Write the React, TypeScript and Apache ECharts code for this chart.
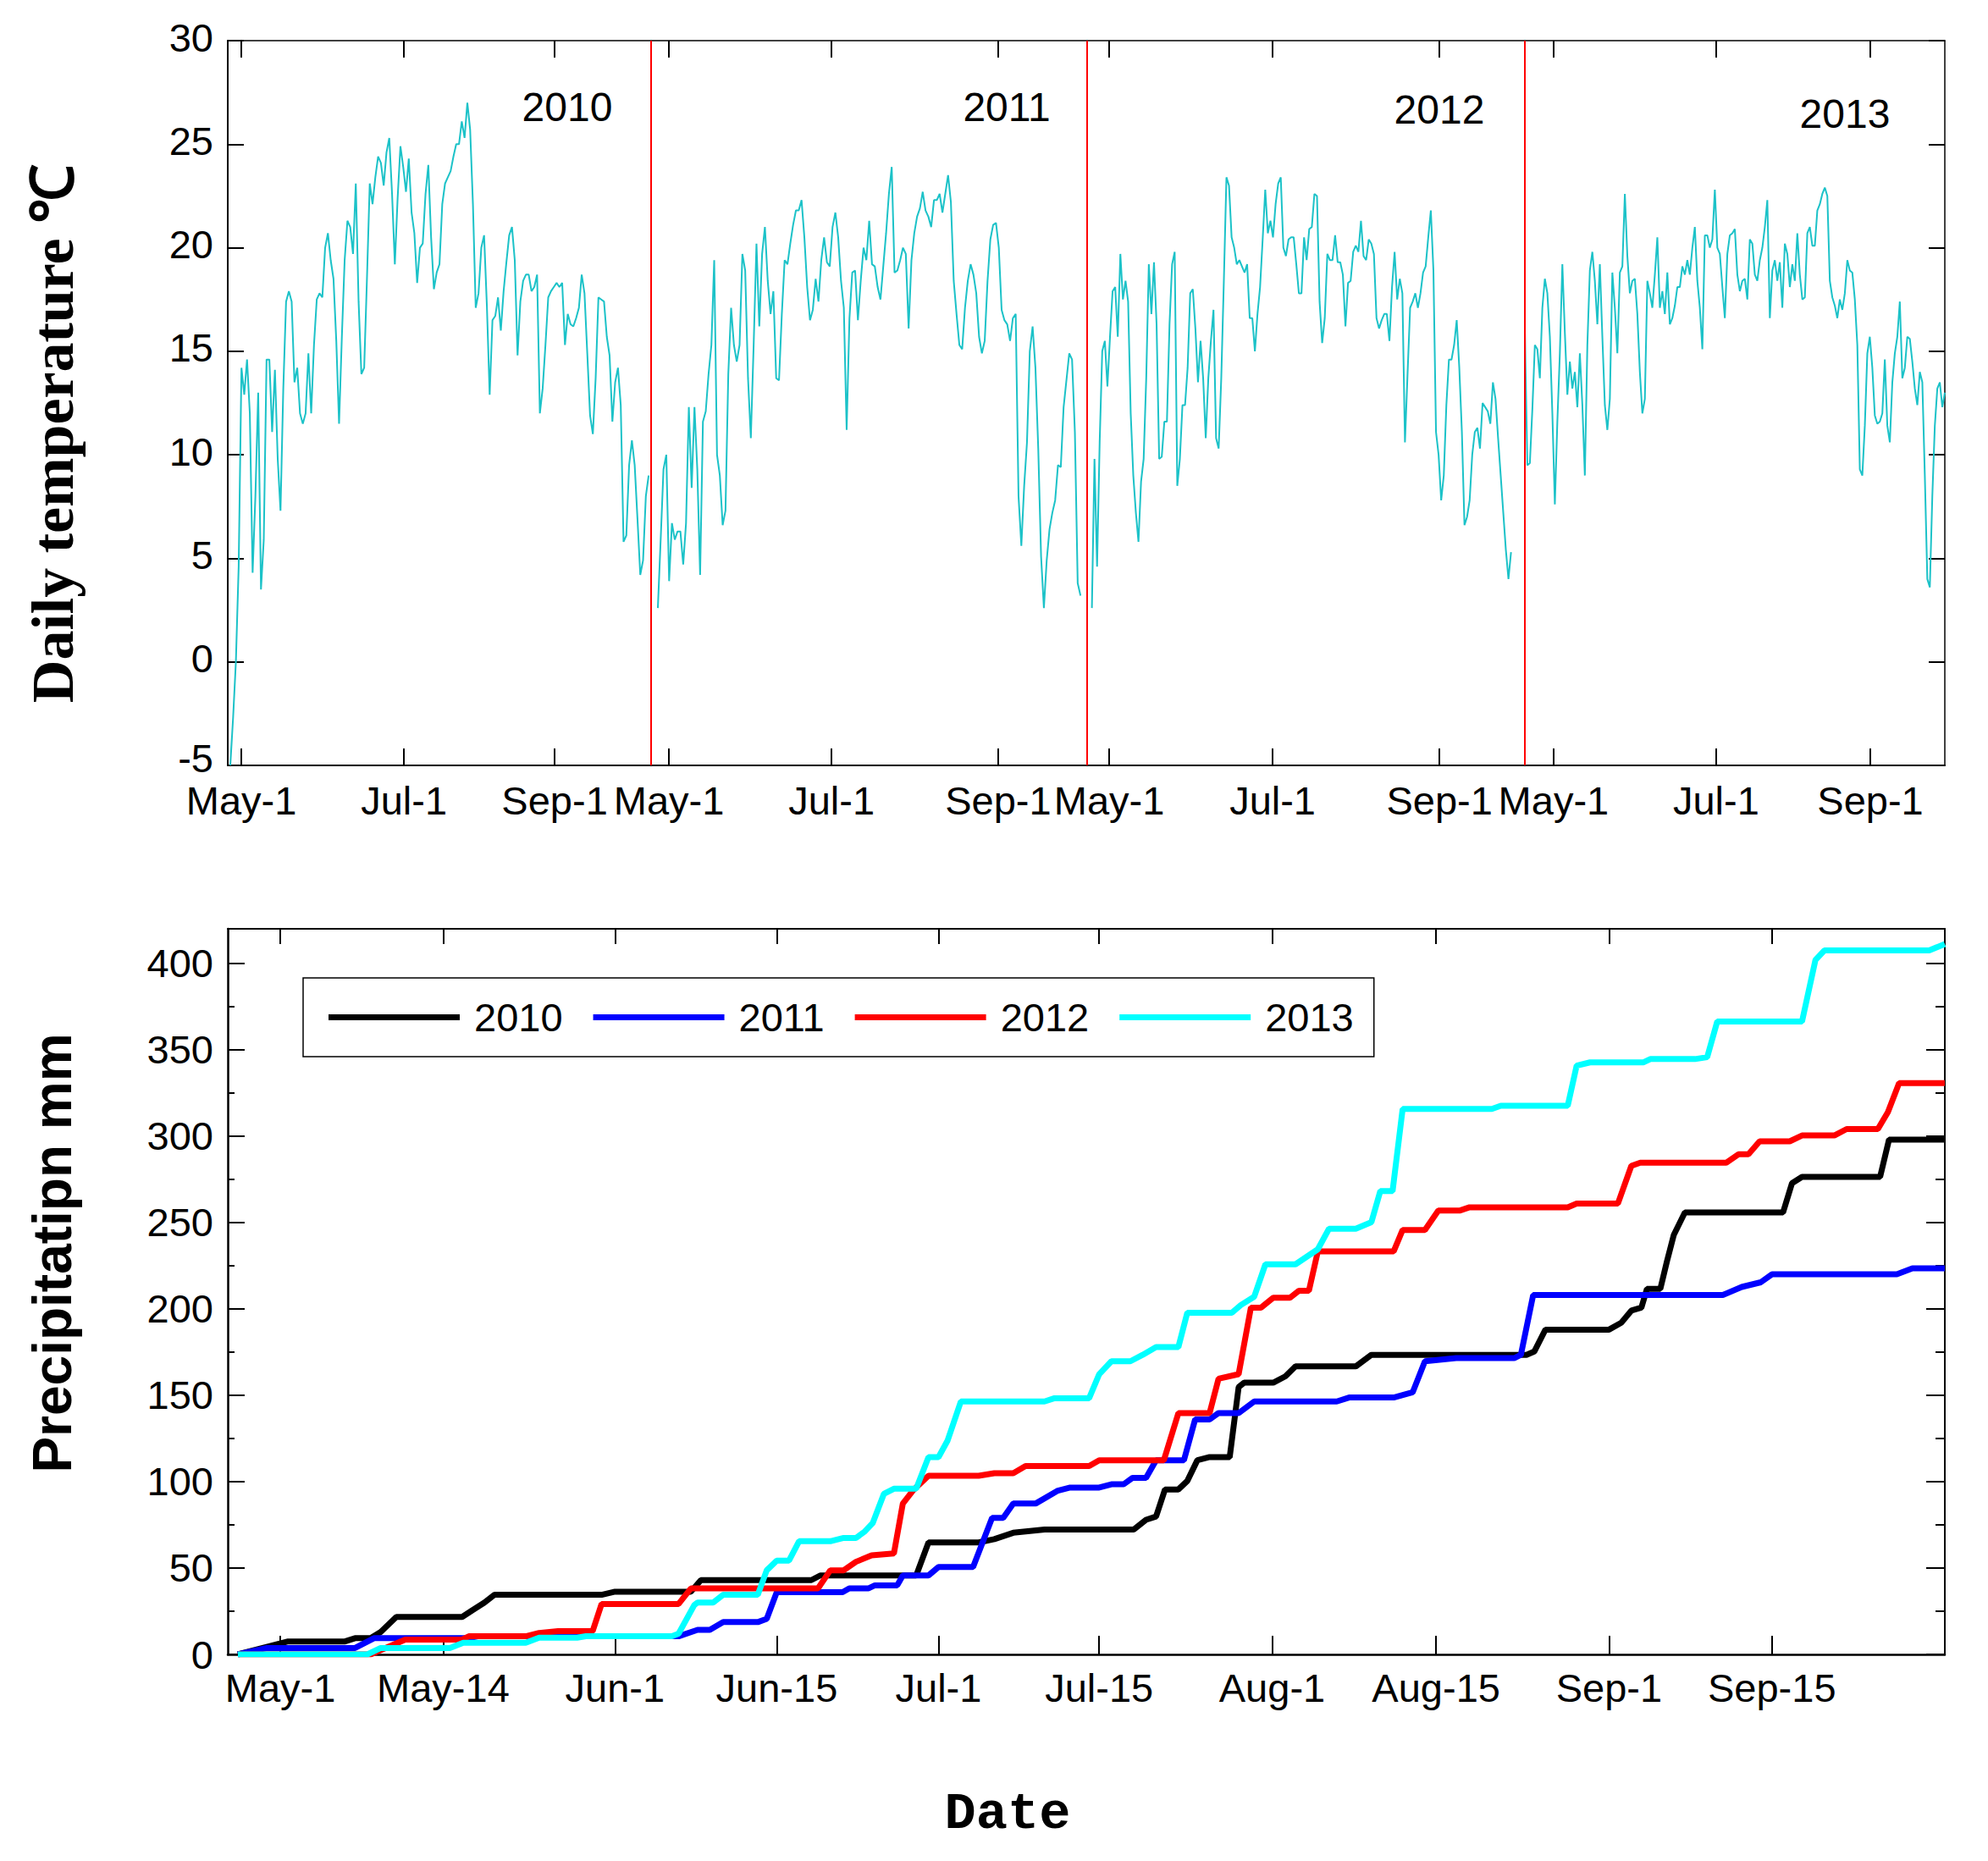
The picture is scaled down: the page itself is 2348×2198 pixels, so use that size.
import React, { useEffect, useRef } from "react";
import * as echarts from "echarts";

// ---------- Daily temperature (°C), one value per day, per season ----------
const temp2010 = [
  -5, -2.7, 0, 4.6, 14.2, 12.9, 14.6, 12, 4.3, 8,
  13, 3.5, 5.9, 14.6, 14.6, 11.1, 14.1, 9.8, 7.3, 13.2,
  17.4, 17.9, 17.4, 13.5, 14.2, 12, 11.5, 12, 14.9, 12,
  15.3, 17.5, 17.8, 17.6, 20, 20.7, 19.4, 18.5, 15.5, 11.5,
  15.7, 19.4, 21.3, 21, 19.7, 23.1, 17.4, 13.9, 14.2, 18.5,
  23.1, 22.1, 23.4, 24.4, 24.1, 23, 24.6, 25.3, 22.6, 19.2,
  22.4, 24.9, 23.9, 22.7, 24.3, 21.7, 20.7, 18.3, 20, 20.2,
  22.6, 24, 20.5, 18, 18.8, 19.2, 22.1, 23.1, 23.4, 23.7,
  24.4, 25, 25, 26.1, 25.3, 27, 25.7, 22.1, 17.1, 17.8,
  20, 20.6, 17.2, 12.9, 16.5, 16.7, 17.6, 16, 17.9, 19.3,
  20.6, 21, 19.4, 14.8, 17.4, 18.4, 18.7, 18.7, 17.9, 18.1,
  18.7, 12, 13.2, 15.3, 17.6, 17.9, 18.1, 18.3, 18.1, 18.3,
  15.3, 16.8, 16.3, 16.2, 16.6, 17.1, 18.7, 17.8, 14.9, 11.9,
  11, 13.7, 17.6, 17.5, 17.4, 15.7, 14.8, 11.6, 13.5, 14.2,
  12.4, 5.8, 6.1, 9.5, 10.7, 9.5, 6.9, 4.2, 4.9, 8, 9,
];
const temp2011 = [
  2.6, 5.9, 9.3, 10, 3.9, 6.7, 5.9, 6.3, 6.3, 4.7,
  6.7, 12.3, 8.4, 12.3, 9.3, 4.2, 11.6, 12.1, 13.9, 15.3,
  19.4, 10, 9, 6.6, 7.3, 13.9, 17.1, 15.3, 14.5, 15.3,
  19.7, 18.9, 13.7, 10.8, 15.3, 20.2, 16.2, 19.7, 21, 18.4,
  16.8, 17.9, 13.7, 13.6, 16.8, 19.4, 19.2, 20.2, 21.1, 21.8,
  21.8, 22.3, 20.5, 18.1, 16.5, 17, 18.5, 17.4, 19.4, 20.5,
  19.3, 19.1, 21, 21.7, 20.5, 18.4, 17.1, 11.2, 16.6, 18.8,
  18.9, 16.5, 18.4, 20, 19.4, 21.3, 19.2, 19.1, 18.1, 17.5,
  19.1, 20.7, 22.6, 23.9, 18.8, 18.9, 19.4, 20, 19.7, 16.1,
  19.4, 20.7, 21.5, 21.9, 22.7, 21.8, 21.5, 21, 22.3, 22.3,
  22.6, 21.7, 22.6, 23.5, 22.2, 18.4, 16.8, 15.3, 15.1, 17.1,
  18.4, 19.2, 18.7, 17.8, 15.7, 14.9, 15.5, 18.4, 20.4, 21.1,
  21.2, 20, 17, 16.5, 16.3, 15.5, 16.6, 16.8, 8, 5.6,
  8.5, 10.6, 15, 16.2, 14.2, 10.3, 5.1, 2.6, 4.9, 6.4,
  7.2, 7.8, 9.5, 9.4, 12.3, 13.6, 14.9, 14.6, 11.1, 3.8, 3.2,
];
const temp2012 = [
  2.6, 9.8, 4.6, 10.6, 15, 15.5, 13.3, 15.7, 17.9, 18.1,
  15.7, 19.7, 17.5, 18.4, 17.4, 12, 9, 7.2, 5.8, 8.7,
  9.8, 13.7, 19.2, 16.8, 19.3, 16.3, 9.8, 9.9, 11.6, 11.6,
  16.3, 19.2, 19.8, 8.5, 9.8, 12.4, 12.4, 14.2, 17.8, 18,
  16.1, 13.5, 15.5, 13.7, 10.8, 13.7, 15.5, 17, 10.8, 10.3,
  13.7, 18.4, 23.4, 23, 20.5, 20, 19.2, 19.4, 19.1, 18.8,
  19.2, 16.6, 16.6, 15, 16.8, 18.1, 20.4, 22.8, 20.7, 21.3,
  20.5, 22.1, 23.1, 23.4, 20, 19.6, 20.4, 20.5, 20.5, 19.2,
  17.8, 17.8, 20.5, 19.4, 20.9, 21, 22.6, 22.5, 17.4, 15.4,
  16.6, 19.7, 19.4, 19.4, 20.6, 19.3, 19.3, 18.7, 16.2, 18.3,
  18.4, 19.8, 20.1, 19.8, 21.3, 19.6, 19.4, 20.4, 20.2, 19.7,
  16.6, 16.1, 16.5, 16.8, 16.8, 15.5, 18.1, 19.8, 17.5, 18.5,
  17.8, 10.6, 13.9, 17.1, 17.4, 17.8, 17.1, 17.8, 18.8, 19.1,
  20.5, 21.8, 18.9, 11.1, 10, 7.8, 9, 12.4, 14.6, 14.6,
  15.3, 16.5, 14.2, 11.1, 6.6, 7, 7.8, 10, 11.1, 11.3,
  10.3, 12.5, 12.3, 12.1, 11.5, 13.5, 12.7, 10.8, 9, 7.2,
  5.4, 4, 5.3,
];
const temp2013 = [
  15.9, 9.5, 9.6, 12.2, 15.3, 15.1, 13.7, 17.1, 18.5, 17.8,
  15.7, 12, 7.6, 11.6, 14.9, 19.2, 15.9, 12.9, 14.5, 13.2,
  14, 12.3, 14.9, 12.4, 9, 15.3, 18.9, 19.8, 18.4, 16.3,
  19.2, 15.7, 12.4, 11.2, 12.7, 18.8, 17.1, 14.9, 18.8, 19.1,
  22.6, 19.6, 17.8, 18.4, 18.5, 16.8, 14, 12, 12.7, 18.4,
  17.8, 17.1, 18.7, 20.5, 17.1, 17.9, 16.8, 18.8, 16.3, 16.6,
  17.2, 18.1, 18.1, 19.1, 18.7, 19.4, 18.7, 20, 21, 18.4,
  17.1, 15.1, 20.6, 20.6, 20, 20.4, 22.8, 20, 19.7, 18.1,
  16.6, 19.7, 20.6, 20.7, 20.9, 18.7, 17.9, 18.4, 18.5, 17.5,
  20.4, 20.2, 18.7, 18.4, 19.4, 20, 21, 22.3, 16.6, 18.9,
  19.4, 18.4, 19.3, 17.1, 20.2, 19.7, 18.1, 19.2, 18.4, 20.7,
  18.7, 17.5, 17.6, 20.7, 21, 20.1, 20.1, 21.8, 22.1, 22.6,
  22.9, 22.5, 18.4, 17.6, 17.2, 16.6, 17.5, 17, 17.8, 19.4,
  18.9, 18.8, 17.5, 15.3, 9.3, 9, 11.4, 14.9, 15.7, 14.2,
  11.9, 11.5, 11.6, 12, 14.6, 11.4, 10.6, 13.5, 14.9, 15.7,
  17.4, 13.7, 14.2, 15.7, 15.6, 14.5, 13.2, 12.4, 14, 13.5,
  9, 4, 3.6, 8, 11.4, 13.2, 13.5, 12.3, 13,
];
const tempYears = ["2010", "2011", "2012", "2013"];
// first and last day index of each season on the continuous day axis
const tempSeasonStart = [0, 157.8, 318, 477.8];
const tempSeasonEnd = [154.4, 313.8, 472.7, 632.8];
const yearBoundaries = [155.3, 316.3, 477.8];
const tempTickPos = [4.1, 64.1, 119.7, 161.9, 221.9, 283.4, 324.4, 384.7, 446.3, 488.4, 548.4, 605.3];
const tempTickLabels = ["May-1", "Jul-1", "Sep-1", "May-1", "Jul-1", "Sep-1", "May-1", "Jul-1", "Sep-1", "May-1", "Jul-1", "Sep-1"];

// ---------- Cumulative precipitation (mm), [day position, value] ----------
const precip2010 = [
  [0, 0], [4.5, 7.5], [9.6, 7.5], [10.5, 9.4], [11.9, 9.4], [12.8, 13], [14.2, 21.7], [20.1, 21.7], [21, 25.5], [22.1, 30],
  [23, 34.5], [32.6, 34.5], [33.8, 36.3], [40.6, 36.3], [41.5, 43], [51.4, 43], [52.2, 45.7], [60.8, 45.7], [61.9, 64.8],
  [66.4, 64.8], [67.8, 66.7], [69.5, 70.4], [72.3, 72.3], [80.3, 72.3], [81.4, 77.9], [82.3, 79.8], [83.1, 95.5], [84.3, 95.5],
  [85.1, 100.4], [86, 112.4], [87.1, 114.2], [88.9, 114.2], [89.7, 154.7], [90.2, 157.3], [92.8, 157.3], [93.9, 161],
  [94.8, 166.7], [100.2, 166.7], [101.6, 173.4], [115.5, 173.4], [116.2, 175.3], [117.2, 188], [122.9, 188], [124, 192],
  [124.9, 199], [125.8, 200.7], [126.3, 211.6], [127.5, 211.6], [128.1, 227.7], [128.7, 242.7], [129.7, 255.8],
  [138.5, 255.8], [139.3, 272.7], [140.2, 276.4], [147.2, 276.4], [148, 298], [153, 298],
];
const precip2011 = [
  [0, 0], [2.6, 3.7], [10.5, 3.7], [12.2, 9.4], [20.7, 9.4], [21.5, 10.5], [39.5, 10.5], [41.2, 14.2], [42.3, 14.2],
  [43.5, 18.7], [46.6, 18.7], [47.4, 20.6], [48.3, 36], [54.2, 36], [54.8, 38.2], [56.5, 38.2], [57.1, 40], [59.1, 40],
  [59.6, 45.7], [61.9, 45.7], [62.8, 50.6], [65.9, 50.6], [67.6, 79], [68.6, 79], [69.5, 87.3], [71.5, 87.3], [73.5, 94.8],
  [74.6, 96.6], [77.2, 96.6], [78.3, 98.5], [79.4, 98.5], [80.2, 102.2], [81.4, 102.2], [82.3, 112.4], [84.8, 112.4],
  [85.8, 136], [87.1, 136], [87.9, 139.7], [89.7, 139.7], [91.1, 146.4], [98.5, 146.4], [99.6, 148.7], [103.6, 148.7],
  [105.3, 151.7], [106.4, 169.7], [109.2, 171.5], [114.4, 171.5], [115, 173.4], [116.1, 208], [133.1, 208], [134.8, 212.7],
  [136.5, 215.4], [137.5, 220], [148.7, 220], [150.1, 223.5], [153, 223.5],
];
const precip2012 = [
  [0, 0], [11.9, 0], [15, 8.6], [20.1, 8.6], [20.7, 10.5], [25.8, 10.5], [27, 12.4], [28.7, 13.5], [31.8, 13.5], [32.6, 29.2],
  [39.5, 29.2], [40.6, 38.2], [52, 38.2], [53.1, 48.7], [54.3, 48.7], [55.4, 53.6], [56.8, 57.3], [58.8, 58.4], [59.6, 87.3],
  [60.5, 94.8], [61.9, 103.4], [66.4, 103.4], [67.8, 104.9], [69.5, 104.9], [70.6, 109], [76.3, 109], [77.2, 112.4],
  [83, 112.4], [84.3, 139.7], [87.1, 139.7], [87.9, 159.6], [89.7, 162.2], [90.8, 200.7], [91.7, 200.7], [92.8, 206.4],
  [94.3, 206.4], [95.1, 210.5], [96, 210.5], [96.8, 233.3], [103.6, 233.3], [104.4, 245.7], [106.4, 245.7], [107.6, 256.9],
  [109.5, 256.9], [110.4, 258.8], [119.2, 258.8], [120, 261], [123.7, 261], [124.9, 282.8], [125.7, 284.6], [133.4, 284.6],
  [134.5, 289.5], [135.4, 289.5], [136.4, 297], [139.1, 297], [140.2, 300.4], [143.1, 300.4], [144.2, 304.1], [147, 304.1],
  [147.9, 313.9], [148.9, 330.7], [153, 330.7],
];
const precip2013 = [
  [0, 0], [11.6, 0], [12.8, 3.7], [19, 3.7], [20.2, 6.7], [25.8, 6.7], [27, 9.7], [30.4, 9.7], [31.2, 10.5], [38.9, 10.5],
  [39.5, 12], [40.9, 28.5], [41.2, 30], [42.6, 30], [43.5, 34.5], [46.6, 34.5], [47.4, 48.7], [48.3, 54.3], [49.4, 54.3],
  [50.3, 65.5], [53.1, 65.5], [54.3, 67.4], [55.4, 67.4], [56.2, 71.2], [56.9, 76], [57.9, 92.9], [58.8, 95.9], [60.8, 95.9],
  [61.9, 114.2], [62.8, 114.2], [63.6, 123.6], [64.8, 146.4], [72.3, 146.4], [73.2, 148.3], [76.3, 148.3], [77.2, 162.2],
  [78.3, 169.7], [80, 169.7], [81.1, 173.4], [82.3, 177.9], [84.3, 177.9], [85.1, 197.8], [89.1, 197.8], [89.9, 202.2],
  [91.1, 207.1], [92.1, 225.8], [94.8, 225.8], [96.8, 234.5], [97.8, 246.4], [100.2, 246.4], [101.6, 250.2], [102.4, 268.2],
  [103.5, 268.2], [104.4, 315.7], [112.4, 315.7], [113.2, 317.6], [119.2, 317.6], [120, 340.8], [121.2, 342.7], [126, 342.7],
  [126.6, 344.6], [130.6, 344.6], [131.7, 345.7], [132.6, 366.3], [140.2, 366.3], [141.4, 401.9], [142.2, 407.5],
  [151.6, 407.5], [153, 411.2],
];
const precipSeriesNames = ["2010", "2011", "2012", "2013"];
const precipColors = ["#000000", "#0000ff", "#ff0000", "#00ffff"];
const precipTickPos = [3.8, 18.4, 33.8, 48.3, 62.8, 77.2, 92.7, 107.4, 122.9, 137.5];
const precipTickLabels = ["May-1", "May-14", "Jun-1", "Jun-15", "Jul-1", "Jul-15", "Aug-1", "Aug-15", "Sep-1", "Sep-15"];
const precipMajor = [0, 50, 100, 150, 200, 250, 300, 350, 400];
const precipMinor = [25, 75, 125, 175, 225, 275, 325, 375];

const SANS = "Liberation Sans, Arial, sans-serif";

function labelAt(pos: number[], labels: string[]) {
  return (v: number) => {
    let bi = 0;
    let bd = Infinity;
    pos.forEach((p, i) => {
      const d = Math.abs(p - v);
      if (d < bd) {
        bd = d;
        bi = i;
      }
    });
    return bd < 0.5 ? labels[bi] : "";
  };
}

export default function App() {
  const ref = useRef<HTMLDivElement>(null);

  useEffect(() => {
    if (!ref.current) return;
    const chart = echarts.init(ref.current, null, { renderer: "svg" });

    const tempSeasons = [temp2010, temp2011, temp2012, temp2013];
    const precipData = [precip2010, precip2011, precip2012, precip2013];

    const line2 = (w: number) => ({ show: true, onZero: false, lineStyle: { color: "#000", width: w } });

    const tempSeries: any[] = tempSeasons.map((vals, k) => {
      const s = tempSeasonStart[k];
      const e = tempSeasonEnd[k];
      const step = (e - s) / (vals.length - 1);
      const s1: any = {
        name: "T" + tempYears[k],
        type: "line",
        xAxisIndex: 0,
        yAxisIndex: 0,
        symbol: "none",
        showSymbol: false,
        data: vals.map((v, i) => [s + i * step, v]),
        lineStyle: { color: "#1cc2c8", width: 2 },
        z: 3,
      };
      if (k === 0) {
        s1.markLine = {
          silent: true,
          symbol: ["none", "none"],
          label: { show: false },
          lineStyle: { color: "#ff0000", width: 2, type: "solid" },
          data: yearBoundaries.map((b) => ({ xAxis: b })),
        };
      }
      return s1;
    });

    const precipSeries: any[] = precipData.map((d, k) => ({
      name: precipSeriesNames[k],
      type: "line",
      xAxisIndex: 2,
      yAxisIndex: 2,
      symbol: "none",
      showSymbol: false,
      data: d,
      lineStyle: { color: precipColors[k], width: 7 },
      itemStyle: { color: precipColors[k] },
      z: 3 + k,
    }));

    const labelFont = { fontSize: 47, fontFamily: SANS, color: "#000" };

    const option: any = {
      animation: false,
      backgroundColor: "#ffffff",
      grid: [
        { left: 269, top: 48, width: 2028, height: 856, containLabel: false, outerBoundsMode: "none" },
        { left: 269, top: 1097, width: 2028, height: 857, containLabel: false, outerBoundsMode: "none" },
      ],
      xAxis: [
        {
          gridIndex: 0,
          type: "value",
          position: "bottom",
          min: -0.94,
          max: 632.8,
          axisLine: line2(2),
          axisTick: { show: true, inside: true, length: 20, customValues: tempTickPos, lineStyle: { color: "#000", width: 2 } },
          axisLabel: {
            show: true,
            customValues: tempTickPos,
            formatter: labelAt(tempTickPos, tempTickLabels),
            ...labelFont,
            lineHeight: 38,
            margin: 22,
          },
          splitLine: { show: false },
        },
        {
          gridIndex: 0,
          type: "value",
          position: "top",
          min: -0.94,
          max: 632.8,
          axisLine: line2(1.5),
          axisTick: { show: true, inside: true, length: 20, customValues: tempTickPos, lineStyle: { color: "#000", width: 2 } },
          axisLabel: { show: false },
          splitLine: { show: false },
        },
        {
          gridIndex: 1,
          type: "value",
          position: "bottom",
          min: -0.91,
          max: 153,
          axisLine: line2(2.5),
          axisTick: { show: true, inside: true, length: 22, customValues: precipTickPos, lineStyle: { color: "#000", width: 2 } },
          axisLabel: {
            show: true,
            customValues: precipTickPos,
            formatter: labelAt(precipTickPos, precipTickLabels),
            ...labelFont,
            lineHeight: 38,
            margin: 20,
          },
          splitLine: { show: false },
        },
        {
          gridIndex: 1,
          type: "value",
          position: "top",
          min: -0.91,
          max: 153,
          axisLine: line2(2),
          axisTick: { show: true, inside: true, length: 18, customValues: precipTickPos, lineStyle: { color: "#000", width: 2 } },
          axisLabel: { show: false },
          splitLine: { show: false },
        },
      ],
      yAxis: [
        {
          gridIndex: 0,
          type: "value",
          position: "left",
          min: -5,
          max: 30,
          interval: 5,
          axisLine: line2(2),
          axisTick: { show: true, inside: true, length: 19, lineStyle: { color: "#000", width: 2 } },
          axisLabel: {
            ...labelFont,
            margin: 17,
            formatter: (v: number) => (v === -5 ? "{lo|" + v + "}" : "{n|" + v + "}"),
            rich: {
              n: { ...labelFont, lineHeight: 38, padding: [0, 0, 8, 0] },
              lo: { ...labelFont, lineHeight: 38, padding: [0, 0, 18, 0] },
            },
          },
          splitLine: { show: false },
        },
        {
          gridIndex: 0,
          type: "value",
          position: "right",
          min: -5,
          max: 30,
          interval: 5,
          axisLine: line2(1.5),
          axisTick: { show: true, inside: true, length: 19, lineStyle: { color: "#000", width: 2 } },
          axisLabel: { show: false },
          splitLine: { show: false },
        },
        {
          gridIndex: 1,
          type: "value",
          position: "left",
          min: 0,
          max: 420,
          axisLine: line2(2.5),
          axisTick: { show: true, inside: true, length: 20, customValues: precipMajor, lineStyle: { color: "#000", width: 2 } },
          axisLabel: { customValues: precipMajor, ...labelFont, lineHeight: 38, margin: 17 },
          splitLine: { show: false },
        },
        {
          gridIndex: 1,
          type: "value",
          position: "right",
          min: 0,
          max: 420,
          axisLine: line2(2),
          axisTick: { show: true, inside: true, length: 22, customValues: precipMajor, lineStyle: { color: "#000", width: 2 } },
          axisLabel: { show: false },
          splitLine: { show: false },
        },
        {
          gridIndex: 1,
          type: "value",
          position: "left",
          min: 0,
          max: 420,
          axisLine: { show: false, onZero: false },
          axisTick: { show: true, inside: true, length: 8, customValues: precipMinor, lineStyle: { color: "#000", width: 2 } },
          axisLabel: { show: false },
          splitLine: { show: false },
        },
        {
          gridIndex: 1,
          type: "value",
          position: "right",
          min: 0,
          max: 420,
          axisLine: { show: false, onZero: false },
          axisTick: { show: true, inside: true, length: 11, customValues: precipMinor, lineStyle: { color: "#000", width: 2 } },
          axisLabel: { show: false },
          splitLine: { show: false },
        },
      ],
      legend: {
        data: precipSeriesNames,
        left: 358,
        top: 1155,
        orient: "horizontal",
        padding: [23, 24, 23, 30],
        icon: "rect",
        itemWidth: 155,
        itemHeight: 7,
        itemGap: 36,
        borderColor: "#000",
        borderWidth: 1.5,
        backgroundColor: "#ffffff",
        selectedMode: false,
        textStyle: { ...labelFont, padding: [0, 0, 0, 12], lineHeight: 46 },
      },
      graphic: [
        { type: "text", x: 670, y: 126, style: { text: tempYears[0], fontSize: 48, fontFamily: SANS, fill: "#000", align: "center", verticalAlign: "middle" } },
        { type: "text", x: 1189, y: 126, style: { text: tempYears[1], fontSize: 48, fontFamily: SANS, fill: "#000", align: "center", verticalAlign: "middle" } },
        { type: "text", x: 1700, y: 129, style: { text: tempYears[2], fontSize: 48, fontFamily: SANS, fill: "#000", align: "center", verticalAlign: "middle" } },
        { type: "text", x: 2179, y: 134, style: { text: tempYears[3], fontSize: 48, fontFamily: SANS, fill: "#000", align: "center", verticalAlign: "middle" } },
        {
          type: "text",
          x: 62,
          y: 512,
          rotation: Math.PI / 2,
          style: { text: "Daily temperature ℃", fontSize: 70, fontFamily: "Liberation Serif, Times New Roman, serif", fontWeight: "bold", fill: "#000", align: "center", verticalAlign: "middle" },
        },
        {
          type: "text",
          x: 62,
          y: 1480,
          rotation: Math.PI / 2,
          style: { text: "Precipitatipn mm", fontSize: 64, fontFamily: SANS, fontWeight: "bold", fill: "#000", align: "center", verticalAlign: "middle" },
        },
        {
          type: "text",
          x: 1190,
          y: 2142,
          style: { text: "Date", fontSize: 62, fontFamily: "Liberation Mono, monospace", fontWeight: "bold", fill: "#000", align: "center", verticalAlign: "middle" },
        },
      ],
      series: [...tempSeries, ...precipSeries],
    };

    chart.setOption(option);
    return () => chart.dispose();
  }, []);

  return (
    <div
      ref={ref}
      style={{ position: "fixed", left: 0, top: 0, width: 2348, height: 2198, background: "#fff" }}
    />
  );
}
